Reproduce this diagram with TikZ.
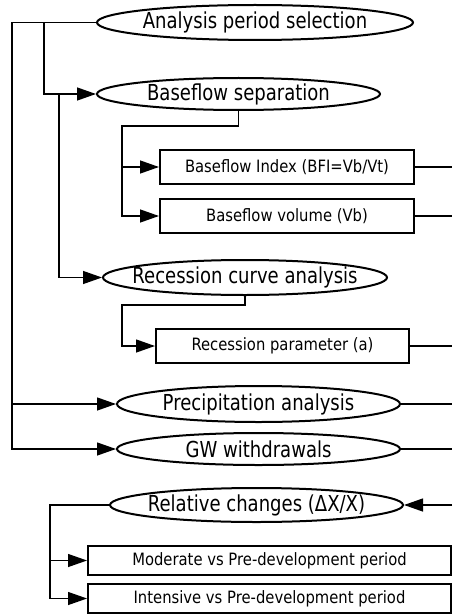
\documentclass[tikz,border=0pt]{standalone}
\usepackage{fontspec}
\setmainfont{DejaVu Sans}
\newfontfamily\ovalfont{DejaVu Sans}[FakeStretch=0.82]
\newfontfamily\panelfont{DejaVu Sans}[FakeStretch=0.87]
\usetikzlibrary{shapes.geometric, arrows.meta}

\tikzset{
    oval/.style={draw, line width=2pt, ellipse, inner sep=0pt, minimum height=#1,
        font=\ovalfont\fontsize{22}{24}\selectfont},
    oval/.default=35pt,
    panel/.style={draw, line width=2pt, rectangle, inner sep=0pt, minimum height=34pt,
        font=\panelfont\fontsize{17}{19}\selectfont},
    link/.style={line width=1.3pt},
    feed/.style={link, -{Triangle[length=19pt, width=13pt]}}
}
\newcommand{\inoval}[1]{\makebox[0pt]{#1}}

\begin{document}
\begin{tikzpicture}[x=1pt, y=-1pt]
        \useasboundingbox (0, 0) rectangle (452, 615);
        % ovals
        \node[oval, minimum width=316pt] (aps) at (255, 22.5) {\inoval{Analysis period selection}};
        \node[oval=32pt, minimum width=283pt] (bfs) at (238.5, 94) {\inoval{Baseflow separation}};
        \node[oval, minimum width=284pt] (rca) at (245, 277.5) {\inoval{Recession curve analysis}};
        \node[oval=36pt, minimum width=283pt] (pa) at (258.5, 404) {\inoval{Precipitation analysis}};
        \node[oval=32pt, minimum width=283pt] (gw) at (258.5, 449) {\inoval{GW withdrawals}};
        \node[oval=34pt, minimum width=293pt] (rel) at (256.5, 505) {\inoval{Relative changes (ΔX/X)}};
        % boxes
        \node[panel, minimum width=254pt] (bfi) at (287, 167) {Baseflow Index (BFI=Vb/Vt)};
        \node[panel, minimum width=254pt] (vol) at (287, 216) {Baseflow volume (Vb)};
        \node[panel, minimum width=253pt] (rp) at (282.5, 346) {Recession parameter (a)};
        \node[panel, minimum height=29pt, minimum width=363pt] (mod) at (269.5, 560.5) {Moderate vs Pre-development period};
        \node[panel, minimum height=29pt, minimum width=363pt] (int) at (269.5, 598.5) {Intensive vs Pre-development period};
        % bends
        \coordinate (lA) at (12, 22.5);
        \coordinate (lB) at (44, 22.5);
        \coordinate (lC) at (59, 94);
        \coordinate (lD) at (122, 126);
        \coordinate (lE) at (122, 305);
        \coordinate (lF) at (50, 505);
        \coordinate (rim) at (452, 0);
        % connectors
        \draw[feed] (aps.west) -- (lA) |- (gw.west);
        \draw[feed] (lA |- pa.west) -- (pa.west);
        \draw[feed] (lB) |- (bfs.west);
        \draw[feed] (lC) |- (rca.west);
        \draw[feed] (bfs.south) |- (lD) |- (vol.west);
        \draw[feed] (lD |- bfi.west) -- (bfi.west);
        \draw[feed] (rca.south) |- (lE) |- (rp.west);
        \draw[link] (bfi.east) -- (bfi.east -| rim);
        \draw[link] (vol.east) -- (vol.east -| rim);
        \draw[link] (rp.east) -- (rp.east -| rim);
        \draw[link] (pa.east) -- (pa.east -| rim);
        \draw[link] (gw.east) -- (gw.east -| rim);
        \draw[feed] (rel.east -| rim) -- (rel.east);
        \draw[feed] (rel.west) -- (lF) |- (int.west);
        \draw[feed] (lF |- mod.west) -- (mod.west);
    \end{tikzpicture}
\end{document}
